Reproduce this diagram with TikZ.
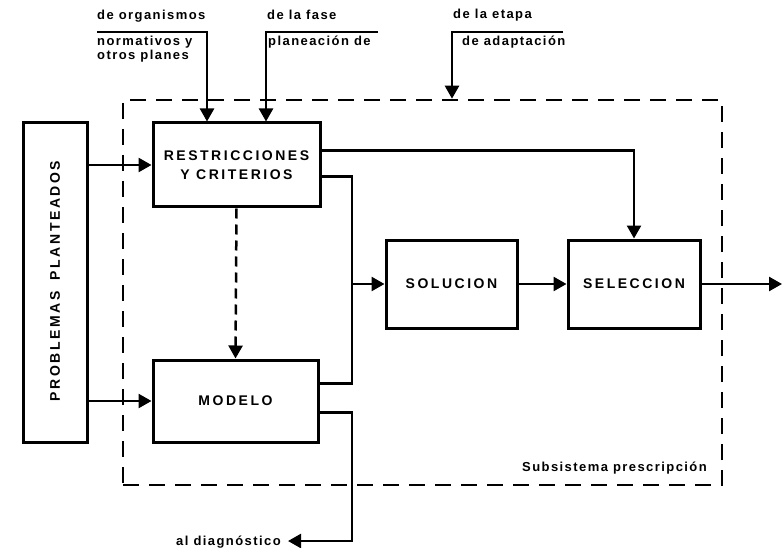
\documentclass[tikz,border=0pt]{standalone}
\usepackage{fontspec}
\setmainfont{Liberation Sans}
\usetikzlibrary{arrows.meta}

\tikzset{
  blkfont/.style={font=\fontsize{14}{19}\selectfont\bfseries\addfontfeatures{LetterSpace=18}},
  blk/.style={draw, line width=3pt, inner sep=0pt, align=center, blkfont},
  frame/.style={draw, line width=2.6pt, dash pattern=on 16pt off 10pt, inner sep=0pt},
  wire/.style={line width=2.5pt},
  arr/.style={wire, -{Triangle[length=13pt,width=14pt]}},
  dasharr/.style={arr, dash pattern=on 10pt off 6pt},
  lbl/.style={inner sep=0pt,
    font=\fontsize{13}{15}\selectfont\bfseries\addfontfeatures{LetterSpace=11}},
}

\begin{document}
\begin{tikzpicture}[x=1pt,y=-1pt]
  \path[use as bounding box] (0,0) rectangle (784,548);

  % subsystem frame
  \node[frame, minimum width=599pt, minimum height=385pt] (sub) at (422.5,292.5) {};
  \node[lbl, anchor=base east] (subname) at (707,471) {Subsistema prescripción};

  % blocks
  \node[blk, minimum width=64pt, minimum height=319pt] (prob) at (55,282.5) {};
  \node[rotate=90, inner sep=0pt, blkfont] (probtxt) at (55,281)
    {PROBLEMAS\hspace{5pt} PLANTEADOS};
  \node[blk, minimum width=167pt, minimum height=84pt] (restr) at (236.5,165)
    {RESTRICCIONES\\Y CRITERIOS};
  \node[blk, minimum width=165pt, minimum height=82pt] (modelo) at (235.5,401) {MODELO};
  \node[blk, minimum width=131pt, minimum height=88pt] (sol) at (451.5,284) {SOLUCION};
  \node[blk, minimum width=132pt, minimum height=88pt] (sel) at (634,284) {SELECCION};

  % external inputs
  \node[lbl, anchor=base west] (t1a) at (97,19.5) {de organismos};
  \node[lbl, anchor=base west] (t1b) at (97,46) {normativos y};
  \node[lbl, anchor=base west] (t1c) at (97,59.5) {otros planes};
  \node[lbl, anchor=base west] (t2a) at (267,19.5) {de la fase};
  \node[lbl, anchor=base west] (t2b) at (268,46) {planeación de};
  \node[lbl, anchor=base west] (t3a) at (453,19) {de la etapa};
  \node[lbl, anchor=base west] (t3b) at (462,46) {de adaptación};

  \coordinate (a0) at (97,32);  \coordinate (a1) at (207,32);
  \coordinate (b0) at (378,32); \coordinate (b1) at (266,32);
  \coordinate (c0) at (563,32); \coordinate (c1) at (452,32);
  \draw[arr] (a0) -- (a1) -- (a1 |- restr.north);
  \draw[arr] (b0) -- (b1) -- (b1 |- restr.north);
  \draw[arr] (c0) -- (c1) -- (c1 |- sub.north);

  % problems into the subsystem
  \draw[arr] (prob.east |- restr.west) -- (restr.west);
  \draw[arr] (prob.east |- modelo.west) -- (modelo.west);

  % restrictions feed the model
  \draw[dasharr] (restr.south) -- (modelo.north);

  % restrictions and model feed the solution
  \coordinate (r1) at ([yshift=-29pt]restr.north east);
  \coordinate (r2) at ([yshift=-55pt]restr.north east);
  \coordinate (m1) at ([yshift=-25pt]modelo.north east);
  \coordinate (m2) at ([yshift=-54pt]modelo.north east);
  \coordinate (j) at (352,284);
  \draw[arr] (r1) -| (sel.north);
  \draw[wire] (r2) -| (j) |- (m1);
  \draw[arr] (j) -- (sol.west);
  \draw[arr] (sol.east) -- (sel.west);
  \coordinate (out) at (782,284);
  \draw[arr] (sel.east) -- (out);

  % feedback to diagnosis
  \coordinate (d) at (288,541);
  \draw[arr] (m2) -- (m2 -| j) |- (d);
  \node[lbl, anchor=base east] (diag) at (281,545) {al diagnóstico};
\end{tikzpicture}
\end{document}
